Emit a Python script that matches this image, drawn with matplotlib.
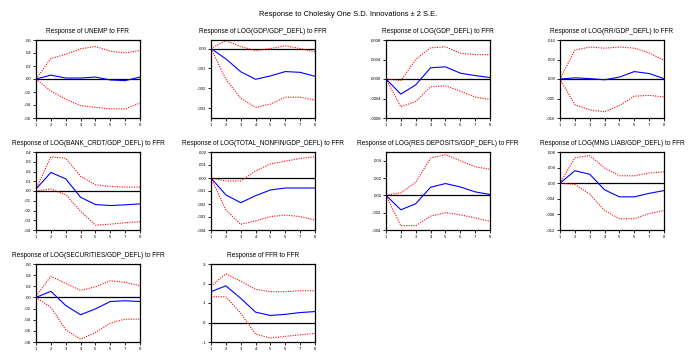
import matplotlib
matplotlib.use("Agg")
import matplotlib.pyplot as plt
import numpy as np

plt.rcParams["font.family"] = ["Liberation Sans", "DejaVu Sans"]

# horizon (periods)
periods = [1, 2, 3, 4, 5, 6, 7, 8]

titles = [
    "Response of UNEMP to FFR",
    "Response of LOG(GDP/GDP_DEFL) to FFR",
    "Response of LOG(GDP_DEFL) to FFR",
    "Response of LOG(RR/GDP_DEFL) to FFR",
    "Response of LOG(BANK_CRDT/GDP_DEFL) to FFR",
    "Response of LOG(TOTAL_NONFIN/GDP_DEFL) to FFR",
    "Response of LOG(RES DEPOSITS/GDP_DEFL) to FFR",
    "Response of LOG(MNG LIAB/GDP_DEFL) to FFR",
    "Response of LOG(SECURITIES/GDP_DEFL) to FFR",
    "Response of FFR to FFR",
]

# impulse responses (blue)
resp = [
    [0.0, 0.006, 0.0015, 0.0015, 0.003, -0.0015, -0.0025, 0.003],
    [0.0, -0.00052, -0.00117, -0.00155, -0.00138, -0.00116, -0.0012, -0.0014],
    [0.0, -0.00031, -0.00012, 0.00023, 0.00025, 0.00012, 0.00007, 0.00003],
    [0.0, 0.0003, 0.0001, -0.0002, 0.0005, 0.0019, 0.0014, 0.0001],
    [0.002, 0.019, 0.0125, -0.0064, -0.0139, -0.0149, -0.0142, -0.0132],
    [0.0, -0.0013, -0.0019, -0.00136, -0.00092, -0.00077, -0.00077, -0.00077],
    [0.0, -0.00167, -0.00097, 0.00093, 0.00136, 0.00097, 0.0004, 0.0001],
    [0.0, 0.0032, 0.0023, -0.0017, -0.0035, -0.0035, -0.0026, -0.0019],
    [0.0, 0.011, -0.0145, -0.031, -0.0206, -0.0073, -0.006, -0.0073],
    [0.158, 0.188, 0.124, 0.053, 0.036, 0.042, 0.051, 0.056],
]

# +2 S.E. band
upper = [
    [0.0, 0.0315, 0.038, 0.0465, 0.05, 0.043, 0.04, 0.044],
    [0.0, 0.0004, 0.0001, -0.0001, 0.0, 0.00014, 0.0, -0.00017],
    [0.0, -0.00003, 0.0004, 0.00064, 0.00066, 0.00053, 0.0005, 0.0005],
    [0.0, 0.0074, 0.0082, 0.0079, 0.0082, 0.0079, 0.0067, 0.0048],
    [0.002, 0.035, 0.0336, 0.015, 0.0064, 0.0047, 0.004, 0.004],
    [0.0, -0.00023, -0.00023, 0.00054, 0.00108, 0.0013, 0.0015, 0.00164],
    [0.0, 0.0003, 0.0015, 0.0043, 0.0047, 0.004, 0.0033, 0.003],
    [0.0, 0.0065, 0.0071, 0.0039, 0.0019, 0.0019, 0.0026, 0.0029],
    [0.0024, 0.038, 0.025, 0.0127, 0.019, 0.03, 0.027, 0.021],
    [0.186, 0.25, 0.212, 0.17, 0.158, 0.158, 0.163, 0.163],
]

# -2 S.E. band
lower = [
    [0.0, -0.0185, -0.031, -0.041, -0.0435, -0.046, -0.046, -0.037],
    [0.0, -0.00155, -0.0025, -0.00297, -0.0028, -0.00245, -0.00245, -0.0026],
    [0.0, -0.00057, -0.00046, -0.00016, -0.00014, -0.00025, -0.00037, -0.00042],
    [0.0, -0.0066, -0.0079, -0.0084, -0.0068, -0.0044, -0.0042, -0.0046],
    [0.0, 0.002, -0.0037, -0.0207, -0.035, -0.034, -0.0325, -0.0315],
    [0.0, -0.00246, -0.00356, -0.0033, -0.00297, -0.00285, -0.00297, -0.00323],
    [0.0, -0.0035, -0.0035, -0.0024, -0.002, -0.00225, -0.0026, -0.003],
    [0.0, -0.0003, -0.0028, -0.007, -0.0091, -0.0091, -0.0078, -0.007],
    [0.0, -0.0176, -0.058, -0.075, -0.063, -0.046, -0.039, -0.039],
    [0.132, 0.132, 0.047, -0.059, -0.08, -0.071, -0.063, -0.056],
]

# y axis ranges and tick values per panel
y_limits = [
    (-0.06, 0.06), (-0.0035, 0.00043), (-0.0008, 0.0008), (-0.010, 0.010),
    (-0.04, 0.04), (-0.004, 0.002), (-0.004, 0.005), (-0.012, 0.008),
    (-0.08, 0.06), (-0.1, 0.3),
]
y_ticks = [
    [-0.06, -0.04, -0.02, 0.0, 0.02, 0.04, 0.06],
    [-0.003, -0.002, -0.001, 0.0],
    [-0.0008, -0.0004, 0.0, 0.0004, 0.0008],
    [-0.010, -0.005, 0.0, 0.005, 0.010],
    [-0.04, -0.03, -0.02, -0.01, 0.0, 0.01, 0.02, 0.03, 0.04],
    [-0.004, -0.003, -0.002, -0.001, 0.0, 0.001, 0.002],
    [-0.004, -0.002, 0.0, 0.002, 0.004],
    [-0.012, -0.008, -0.004, 0.0, 0.004, 0.008],
    [-0.08, -0.06, -0.04, -0.02, 0.0, 0.02, 0.04, 0.06],
    [-0.1, 0.0, 0.1, 0.2, 0.3],
]
y_decimals = [2, 3, 4, 3, 2, 3, 3, 3, 2, 1]


def eviews_label(v, nd):
    s = f"{v:.{nd}f}"
    return s.replace("0.", ".", 1) if s.startswith(("0.", "-0.")) else s


W, H = 696, 361
fig = plt.figure(figsize=(W / 100, H / 100), dpi=100)
fig.text(348 / W, 1 - 15 / H, "Response to Cholesky One S.D. Innovations \u00b1 2 S.E.",
         ha="center", va="center", fontsize=5.4)

col_left = [36, 211, 386, 560]
row_top = [40, 152, 264]
ax_w, ax_h = 104, 78

for i, title in enumerate(titles):
    r, c = divmod(i, 4)
    left, top = col_left[c], row_top[r]
    ax = fig.add_axes([left / W, 1 - (top + ax_h) / H, ax_w / W, ax_h / H])

    ax.axhline(0, color="black", linewidth=0.9, zorder=1)
    ax.plot(periods, upper[i], color="red", linestyle=(0, (1, 1.2)), linewidth=0.8)
    ax.plot(periods, lower[i], color="red", linestyle=(0, (1, 1.2)), linewidth=0.8)
    ax.plot(periods, resp[i], color="blue", linewidth=0.8)

    ax.set_xlim(1, 8)
    ax.set_ylim(*y_limits[i])
    ax.set_xticks(periods)
    ax.set_xticklabels([str(p) for p in periods])
    ax.set_yticks(y_ticks[i])
    ax.set_yticklabels([eviews_label(v, y_decimals[i]) for v in y_ticks[i]])
    ax.tick_params(labelsize=3, length=2, width=0.6, pad=1.5, colors="black")
    for s in ax.spines.values():
        s.set_linewidth(0.9)
    ax.set_title(title, fontsize=4.7, pad=5)

fig.savefig("out.png", dpi=100)
